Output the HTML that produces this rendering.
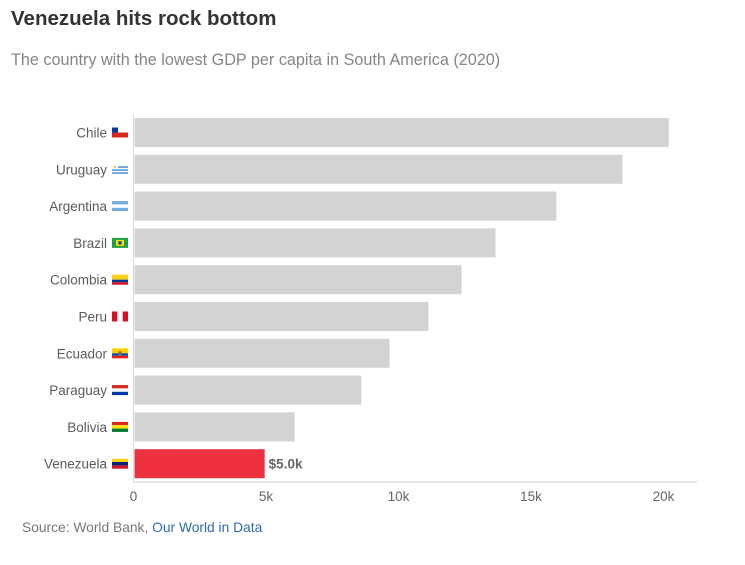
<!DOCTYPE html>
<html><head><meta charset="utf-8"><style>
body{margin:0;background:#fff;font-family:"Liberation Sans",Arial,sans-serif;}
svg{display:block}
</style></head><body>
<svg width="745" height="565" viewBox="0 0 745 565" xmlns="http://www.w3.org/2000/svg">
<text x="11" y="25" font-size="20.5" font-weight="bold" fill="#333">Venezuela hits rock bottom</text>
<text x="11" y="65" font-size="16.2" fill="#858585">The country with the lowest GDP per capita in South America (2020)</text>
<g id="plot"></g>
<text x="22" y="532" font-size="13.8" fill="#777">Source: World Bank, <tspan fill="#2e6db4">Our World in Data</tspan></text>
</svg>
<script>
const countries=["Chile","Uruguay","Argentina","Brazil","Colombia","Peru","Ecuador","Paraguay","Bolivia","Venezuela"];
const gdp=[20200,18450,15960,13660,12380,11130,9660,8600,6080,4950];
const ticks=[0,5000,10000,15000,20000];
const tickLabels=["0","5k","10k","15k","20k"];
const valueLabel="$5.0k";
const NS="http://www.w3.org/2000/svg";
const g=document.getElementById("plot");
const x0=133.5,pxPer=26.5/1000,top0=118,pitch=36.8,bh=29;
const xs=v=>x0+v*pxPer;
function mk(t,a){const e=document.createElementNS(NS,t);for(const k in a)e.setAttribute(k,a[k]);g.appendChild(e);return e;}
const flags={
Chile:[["#fff",0,0,16,5],["#d52b1e",0,5,16,5],["#0039a6",0,0,6,5]],
Uruguay:[["#fff",0,0,16,10],["#4b8fd1",0,2,16,1.5],["#4b8fd1",0,5,16,1.5],["#4b8fd1",0,8,16,1.5],["#fff",0,0,6,5],["#f4c430",2,1.5,2,2]],
Argentina:[["#74acdf",0,0,16,10],["#fff",0,3.3,16,3.4]],
Brazil:[["#229e45",0,0,16,10],["#f8e509",4,2,8,6],["#2b49a3",6.3,3.3,3.4,3.4]],
Colombia:[["#fcd116",0,0,16,5],["#003893",0,5,16,2.5],["#ce1126",0,7.5,16,2.5]],
Peru:[["#d91023",0,0,16,10],["#fff",5.3,0,5.4,10]],
Ecuador:[["#ffd100",0,0,16,5],["#034ea2",0,5,16,2.5],["#ed1c24",0,7.5,16,2.5],["#8a6d3b",6.5,3,3,4]],
Paraguay:[["#d52b1e",0,0,16,3.3],["#fff",0,3.3,16,3.4],["#0038a8",0,6.7,16,3.3]],
Bolivia:[["#d52b1e",0,0,16,3.3],["#f9e300",0,3.3,16,3.4],["#007934",0,6.7,16,3.3]],
Venezuela:[["#fcd116",0,0,16,3.3],["#00247d",0,3.3,16,3.4],["#cf142b",0,6.7,16,3.3]]};
countries.forEach((c,i)=>{
 const y=top0+i*pitch;
 const r=mk("rect",{x:x0+1,y:y,width:xs(gdp[i])-x0-1,height:bh,fill:c==="Venezuela"?"#ee313e":"#d3d3d3"});
 
 
 const t=mk("text",{x:107,y:y+bh/2+5,"font-size":13.5,fill:"#5b5b5b","text-anchor":"end"});t.textContent=c;
 
 
 const fg=document.createElementNS(NS,"g");fg.setAttribute("transform",`translate(112,${y+bh/2-5})`);
 
 
 g.appendChild(fg);
 flags[c].forEach(f=>{const e=document.createElementNS(NS,"rect");e.setAttribute("fill",f[0]);e.setAttribute("x",f[1]);e.setAttribute("y",f[2]);e.setAttribute("width",f[3]);e.setAttribute("height",f[4]);fg.appendChild(e);});
 if(c==="Venezuela"){const v=mk("text",{x:xs(gdp[i])+4,y:y+bh/2+5,"font-size":13.5,"font-weight":"bold",fill:"#666"});v.textContent=valueLabel;
 
 }
});
const ax=mk("line",{x1:x0,y1:114,x2:x0,y2:482,stroke:"#ddd","stroke-width":1});


const bx=mk("line",{x1:x0,y1:482,x2:697,y2:482,stroke:"#ccc","stroke-width":1});


ticks.forEach((v,i)=>{const t=mk("text",{x:xs(v),y:501,"font-size":13.5,fill:"#666","text-anchor":"middle"});t.textContent=tickLabels[i];
 
 });
</script>
</body></html>
